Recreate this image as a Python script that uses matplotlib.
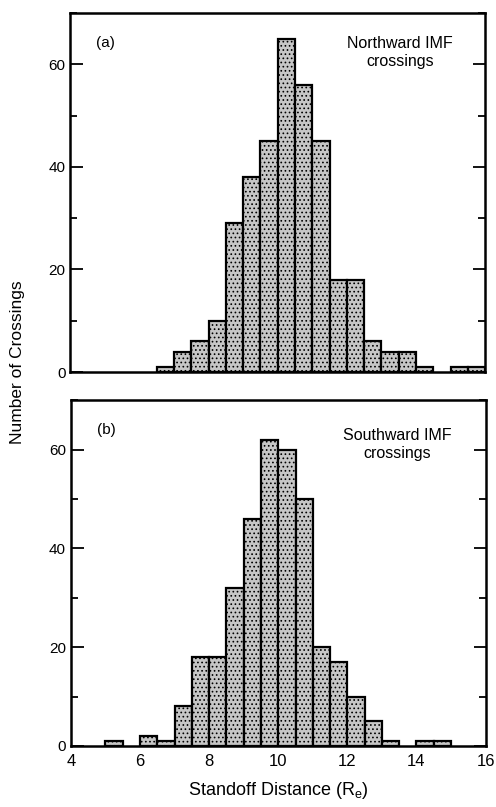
#!/usr/bin/env python3
"""Magnetopause standoff distance histograms for northward and southward IMF."""

import matplotlib

matplotlib.use("Agg")
import matplotlib.pyplot as plt
from matplotlib.ticker import MultipleLocator
import numpy as np

plt.rcParams["font.family"] = ["Liberation Sans", "DejaVu Sans"]
plt.rcParams["hatch.linewidth"] = 0.7

# bin left edges (Re), width 0.5
BIN_EDGES = np.arange(4.0, 16.0 + 0.5, 0.5)
NORTH_COUNTS = [0, 0, 0, 0, 0, 1, 4, 6, 10, 29, 38, 45, 65, 56, 45, 18,
                18, 6, 4, 4, 1, 0, 1, 1]
SOUTH_COUNTS = [0, 0, 1, 0, 2, 1, 8, 18, 18, 32, 46, 62, 60, 50, 20, 17,
                10, 5, 1, 0, 1, 1, 0, 0]
PANEL_TAGS = ["(a)", "(b)"]
PANEL_NOTES = ["Northward IMF\ncrossings", "Southward IMF\ncrossings"]
NOTE_POS = [(0.795, 0.935), (0.786, 0.92)]
X_TICKS = [4, 6, 8, 10, 12, 14, 16]
Y_TICKS = [0, 20, 40, 60]


def draw_panel(ax, counts, tag, note, note_pos, show_x):
    lefts = BIN_EDGES[:-1]
    heights = np.array(counts, dtype=float)
    keep = heights > 0
    ax.bar(lefts[keep], heights[keep], width=0.5, align="edge",
           facecolor="#c6c6c6", edgecolor="black", linewidth=1.6,
           hatch="....")
    ax.set_xlim(4, 16)
    ax.set_ylim(0, 70)
    ax.set_xticks(X_TICKS)
    ax.set_yticks(Y_TICKS)
    ax.yaxis.set_minor_locator(MultipleLocator(10))
    ax.tick_params(axis="y", which="both", direction="in", left=True,
                   right=True, width=1.3, labelsize=11)
    ax.tick_params(axis="y", which="major", length=9)
    ax.tick_params(axis="y", which="minor", length=5)
    ax.tick_params(axis="x", length=0, labelsize=12, pad=6,
                   labelbottom=show_x)
    for sp in ax.spines.values():
        sp.set_linewidth(1.8)
    ax.text(0.085, 0.915, tag, transform=ax.transAxes, fontsize=11,
            ha="center", va="center")
    ax.text(note_pos[0], note_pos[1], note, transform=ax.transAxes,
            fontsize=11.5, ha="center", va="top", linespacing=1.25)


fig = plt.figure(figsize=(4.96, 8.07), dpi=100)
ax_a = fig.add_axes([0.142, 0.539, 0.836, 0.445])
ax_b = fig.add_axes([0.143, 0.0756, 0.836, 0.4284])

draw_panel(ax_a, NORTH_COUNTS, PANEL_TAGS[0], PANEL_NOTES[0], NOTE_POS[0], False)
draw_panel(ax_b, SOUTH_COUNTS, PANEL_TAGS[1], PANEL_NOTES[1], NOTE_POS[1], True)

ax_b.set_xlabel("Standoff Distance (R$_\\mathregular{e}$)", fontsize=13,
                labelpad=8)
fig.text(0.036, 0.551, "Number of Crossings", rotation=90, fontsize=12.5,
         ha="center", va="center")

fig.savefig("out.png", dpi=100)
